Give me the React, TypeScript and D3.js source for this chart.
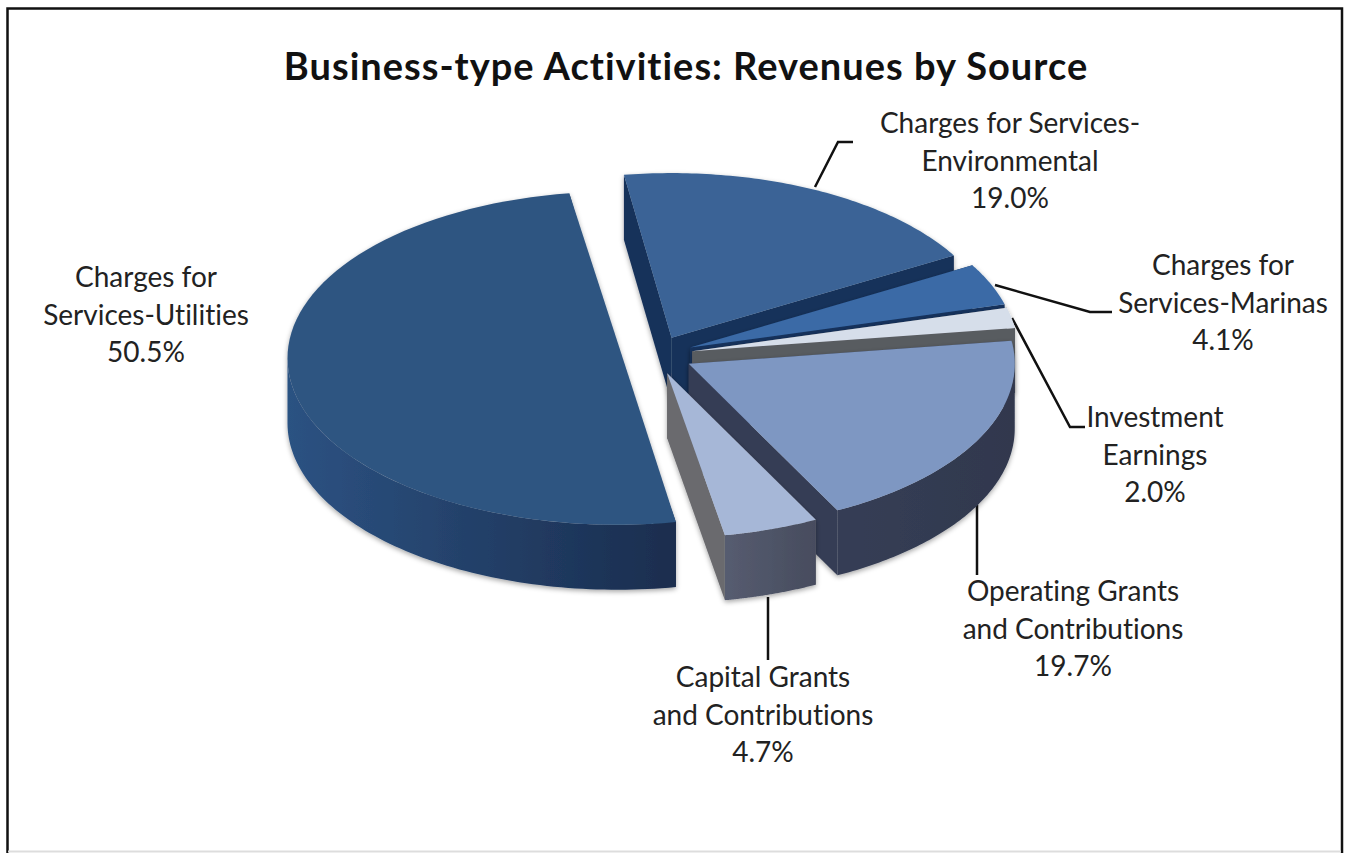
import * as d3 from "d3";

const categories = [
  "Charges for Services-Environmental",
  "Charges for Services-Marinas",
  "Investment Earnings",
  "Operating Grants and Contributions",
  "Capital Grants and Contributions",
  "Charges for Services-Utilities",
];
const shares = [19.0, 4.1, 2.0, 19.7, 4.7, 50.5];
const labelLines = [
  ["Charges for Services-", "Environmental"],
  ["Charges for", "Services-Marinas"],
  ["Investment", "Earnings"],
  ["Operating Grants", "and Contributions"],
  ["Capital Grants", "and Contributions"],
  ["Charges for", "Services-Utilities"],
];
const titleText = "Business-type Activities: Revenues by Source";

// colours per slice, same order as categories
const topColors = ["#3a6496", "#3a6aa6", "#d6deea", "#7e97c2", "#a6b7d7", "#2f5581"];
const cutColors = ["#17315a", "#17325c", "#595b60", "#363e55", "#6a6a6e", "#1b2f50"];
const wallFrom = ["#17315a", "#17325c", "#595b60", "#363e55", "#565c70", "#2c5282"];
const wallTo = ["#17315a", "#17325c", "#595b60", "#30384e", "#474c5e", "#1a2d4e"];

// label block centre and first line y, then the leader line
const labelX = [1010, 1223, 1155, 1073, 763, 146];
const labelY = [124, 266, 418, 592, 678, 278];
const leaders: [number, number][][] = [
  [[815, 187], [838, 142], [853, 142]],
  [[995, 285], [1090, 312], [1112, 312]],
  [[1012, 318], [1070, 427], [1085, 427]],
  [[977, 505], [977, 575]],
  [[768, 597], [768, 660]],
  [],
];

const width = 1347;
const height = 853;
const cx = 655;
const cy = 355;
const radii = [326, 326, 326, 326, 326, 330];
const squash = 0.505;
const depth = 65;
const explode = 38;
const startAngle = (-8.4 * Math.PI) / 180;
const lineGap = 37.5;

const pie = d3
  .pie<number>()
  .sort(null)
  .startAngle(startAngle)
  .endAngle(startAngle + Math.PI * 2);
const line = d3.line();

const project = (angle: number, r: number): [number, number] => [
  r * Math.sin(angle),
  -r * squash * Math.cos(angle),
];

const rim = (a0: number, a1: number, r: number) =>
  d3.range(0, 81).map((i) => project(a0 + ((a1 - a0) * i) / 80, r));

// top face; a slice wider than a half turn closes on its chord so the cut stays straight
function topPath(a0: number, a1: number, r: number) {
  const pts = rim(a0, a1, r);
  return line(a1 - a0 > Math.PI ? pts : [[0, 0], ...pts]) + "Z";
}

// outer wall, only the part of the rim that faces the viewer
function wallPath(a0: number, a1: number, r: number) {
  const tau = Math.PI * 2;
  const turn = Math.floor((a0 - Math.PI / 2) / tau) * tau;
  const from = Math.max(a0, Math.PI / 2 + turn);
  const to = Math.min(a1, (Math.PI * 3) / 2 + turn);
  const from2 = Math.max(a0, Math.PI / 2 + turn + tau);
  const to2 = Math.min(a1, (Math.PI * 3) / 2 + turn + tau);
  const lo = from < to ? from : from2;
  const hi = from < to ? to : to2;
  if (lo >= hi) return null;
  const top = rim(lo, hi, r);
  const bottom = [...top].reverse().map(([x, y]) => [x, y + depth] as [number, number]);
  return line([...top, ...bottom]) + "Z";
}

function cutPath(angle: number, r: number) {
  const [x, y] = project(angle, r);
  return (
    line([
      [0, 0],
      [x, y],
      [x, y + depth],
      [0, depth],
    ]) + "Z"
  );
}

export default function App() {
  const slices = pie(shares);
  return (
    <svg
      width={width}
      height={height}
      viewBox={`0 0 ${width} ${height}`}
      style={{
        position: "absolute",
        left: 0,
        top: 0,
        background: "#fff",
        fontFamily: "Lato",
        fontVariantLigatures: "none",
      }}
    >
      <defs>
        <filter id="soft" x="-10%" y="-10%" width="120%" height="125%">
          <feDropShadow dx={0} dy={2} stdDeviation={2.5} floodColor="#000" floodOpacity={0.35} />
        </filter>
        {categories.map((_, i) => (
          <linearGradient key={i} id={`wall-${i}`} x1="0" x2="1" y1="0" y2="0">
            <stop offset="0%" stopColor={wallFrom[i]} />
            <stop offset="100%" stopColor={wallTo[i]} />
          </linearGradient>
        ))}
      </defs>

      {/* Frame */}
      <path d="M7.5 853V8.5H1342V853" fill="none" stroke="#111" strokeWidth={2.5} />
      <line x1={8} x2={1341} y1={851.5} y2={851.5} stroke="#ddd" strokeWidth={2} />

      <text
        x={686}
        y={80}
        textAnchor="middle"
        fontSize={38}
        fontWeight={700}
        letterSpacing={1}
        fill="#111"
      >
        {titleText}
      </text>

      {/* Leader lines go under the pie */}
      {leaders.map((pts, i) =>
        pts.length ? (
          <path key={i} d={line(pts) ?? ""} fill="none" stroke="#111" strokeWidth={2.5} />
        ) : null
      )}

      {/* Slices, back to front */}
      {slices.map((s, i) => {
        const mid = (s.startAngle + s.endAngle) / 2;
        const [dx, dy] = project(mid, explode);
        const r = radii[i];
        const wall = wallPath(s.startAngle, s.endAngle, r);
        return (
          <g key={categories[i]} transform={`translate(${cx + dx},${cy + dy})`} filter="url(#soft)">
            <path d={cutPath(s.startAngle, r)} fill={cutColors[i]} />
            <path d={cutPath(s.endAngle, r)} fill={cutColors[i]} />
            {wall && <path d={wall} fill={`url(#wall-${i})`} />}
            <path d={topPath(s.startAngle, s.endAngle, r)} fill={topColors[i]} />
          </g>
        );
      })}

      {/* Labels */}
      {categories.map((c, i) => (
        <text key={c} x={labelX[i]} y={labelY[i]} textAnchor="middle" fontSize={28} fill="#222">
          {labelLines[i].map((l, j) => (
            <tspan key={j} x={labelX[i]} y={labelY[i] + 9 + j * lineGap}>
              {l}
            </tspan>
          ))}
          <tspan x={labelX[i]} y={labelY[i] + 9 + labelLines[i].length * lineGap}>
            {shares[i].toFixed(1)}%
          </tspan>
        </text>
      ))}
    </svg>
  );
}
